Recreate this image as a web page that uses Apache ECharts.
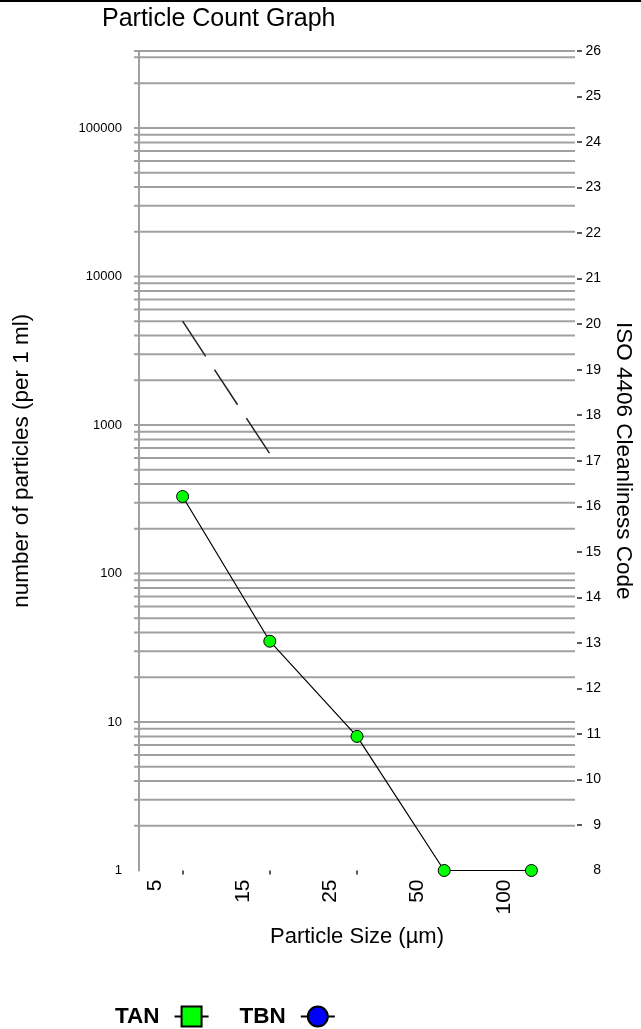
<!DOCTYPE html>
<html><head><meta charset="utf-8">
<script src="https://cdn.jsdelivr.net/npm/echarts@6/dist/echarts.min.js"></script>
<style>html,body{margin:0;padding:0;background:#fff}#c{width:641px;height:1029px}</style>
</head><body><div id="c"></div>
<script>
// ---- data ----
const particleSizes = ['5', '15', '25', '50', '100'];
const tanCounts = [330, 35, 8, 1, 1];
const tbnCounts = [];
const limitCounts = [5000, 640, null, null, null];
const countDecades = [1, 10, 100, 1000, 10000, 100000];
const minorSteps = [2, 3, 4, 5, 6, 7, 8, 9];
const countAxisMin = 1;
const countAxisMax = 330000;
const isoCodes = [8, 9, 10, 11, 12, 13, 14, 15, 16, 17, 18, 19, 20, 21, 22, 23, 24, 25, 26];

// gridline values: minor log steps in each decade, decade lines, top border
const gridValues = [];
countDecades.forEach(d => {
  minorSteps.forEach(m => { if (d * m <= countAxisMax) gridValues.push(d * m); });
  if (d * 10 <= countAxisMax) gridValues.push(d * 10);
});
gridValues.push(countAxisMax);

const FONT = 'Liberation Sans, Arial, sans-serif';
const chart = echarts.init(document.getElementById('c'), null, {renderer: 'canvas'});
const GRID_TOP = 51, GRID_BOTTOM = 158.5;

chart.setOption({
  animation: false,
  backgroundColor: '#fff',
  textStyle: {fontFamily: FONT},
  title: {
    text: 'Particle Count Graph', left: 97, top: 2,
    textStyle: {fontFamily: FONT, fontSize: 25, fontWeight: 'normal', color: '#000'}
  },
  graphic: [{
    type: 'line', shape: {x1: 0, y1: 1, x2: 641, y2: 1},
    style: {stroke: '#000', lineWidth: 2}
  }],
  legend: {
    data: ['TAN', 'TBN'], left: 110, top: 1000, align: 'right', orient: 'horizontal',
    itemWidth: 34, itemHeight: 25, itemGap: 30,
    textStyle: {fontFamily: FONT, fontSize: 22.5, fontWeight: 'bold', color: '#000', padding: [0, 10, 0, 0]},
    lineStyle: {width: 2, color: '#000'}
  },
  grid: [
    {left: 139, right: 66, top: GRID_TOP, bottom: GRID_BOTTOM, containLabel: false, outerBoundsMode: 'none'},
    {left: 112, right: 93, top: GRID_TOP, bottom: GRID_BOTTOM, containLabel: false, outerBoundsMode: 'none'}
  ],
  xAxis: [{
    gridIndex: 0, type: 'category', data: particleSizes, boundaryGap: true,
    axisLine: {show: false},
    axisTick: {show: true, alignWithLabel: true, length: 4, lineStyle: {color: '#222', width: 1.5}},
    axisLabel: {show: false},
    splitLine: {show: false},
    name: 'Particle Size (µm)', nameLocation: 'middle', nameGap: 55,
    nameTextStyle: {fontFamily: FONT, fontSize: 22, color: '#000'}
  }, {
    gridIndex: 1, type: 'category', data: particleSizes, boundaryGap: true,
    axisLine: {show: false}, axisTick: {show: false}, splitLine: {show: false},
    axisLabel: {rotate: 90, margin: 9, fontFamily: FONT, fontSize: 21, color: '#000'}
  }],
  yAxis: [{
    gridIndex: 0, type: 'log', logBase: 10, min: countAxisMin, max: countAxisMax, position: 'left',
    axisLine: {show: true, lineStyle: {color: '#a0a0a0', width: 2}},
    axisTick: {show: false},
    splitLine: {show: false},
    axisLabel: {
      margin: 17, fontFamily: FONT, fontSize: 13, color: '#000', showMaxLabel: false,
      formatter: v => { const r = Math.round(v); return countDecades.indexOf(r) >= 0 ? String(r) : ''; }
    },
    name: 'number of particles (per 1 ml)', nameLocation: 'middle', nameGap: 106,
    nameTextStyle: {fontFamily: FONT, fontSize: 22.5, color: '#000'}
  }, {
    gridIndex: 0, type: 'value', min: isoCodes[0], max: isoCodes[isoCodes.length - 1], interval: 1,
    position: 'right', offset: 2,
    axisLine: {show: false},
    axisTick: {show: true, length: 5, customValues: isoCodes.slice(1), lineStyle: {color: '#222', width: 1.5}},
    splitLine: {show: false},
    axisLabel: {margin: 24, align: 'right', fontFamily: FONT, fontSize: 14, color: '#000'},
    name: 'ISO 4406 Cleanliness Code', nameLocation: 'middle', nameRotate: -90, nameGap: 19,
    nameTextStyle: {fontFamily: FONT, fontSize: 22.5, color: '#000'}
  }, {
    gridIndex: 1, type: 'value', min: 0, max: 1, show: false
  }],
  series: [{
    type: 'custom', name: 'grid', xAxisIndex: 0, yAxisIndex: 0, silent: true, z: 1,
    data: gridValues.map(v => [0, v]),
    encode: {x: 0, y: 1},
    renderItem: (params, api) => {
      const y = api.coord([0, api.value(1)])[1];
      const cs = params.coordSys;
      return {type: 'line', shape: {x1: cs.x - 5, y1: y, x2: cs.x + cs.width, y2: y},
              style: {stroke: '#a0a0a0', lineWidth: 2}};
    }
  }, {
    type: 'line', name: 'Limit', xAxisIndex: 0, yAxisIndex: 0, z: 3,
    data: limitCounts, symbol: 'none', connectNulls: false,
    lineStyle: {color: '#222', width: 1.5, type: [42, 16]}
  }, {
    type: 'line', name: 'TAN', xAxisIndex: 0, yAxisIndex: 0, z: 4,
    data: tanCounts.map(v => ({value: v, symbol: 'circle'})),
    symbol: 'rect', symbolSize: 12, showSymbol: true,
    itemStyle: {color: '#00ff00', borderColor: '#000', borderWidth: 1},
    lineStyle: {color: '#000', width: 1.2}
  }, {
    type: 'line', name: 'TBN', xAxisIndex: 0, yAxisIndex: 0, z: 4,
    data: tbnCounts, symbol: 'circle', symbolSize: 12,
    itemStyle: {color: '#0000ff', borderColor: '#000', borderWidth: 1},
    lineStyle: {color: '#000', width: 1.2}
  }]
});
</script></body></html>
